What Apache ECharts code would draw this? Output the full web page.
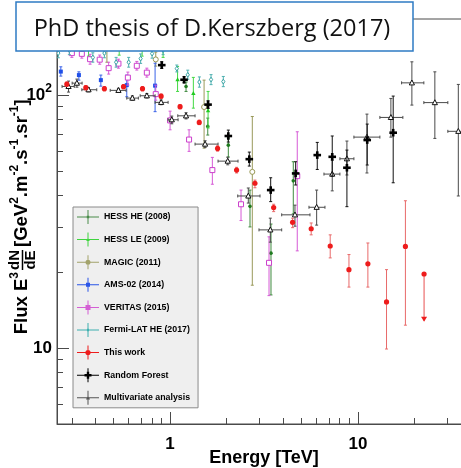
<!DOCTYPE html>
<html><head><meta charset="utf-8">
<script src="https://cdn.jsdelivr.net/npm/echarts@6/dist/echarts.min.js"></script>
<style>html,body{margin:0;padding:0;background:#fff}#c{width:461px;height:468px}</style>
</head><body><div id="c"></div>
<script>
// ---- axis ticks ----
const xMajorTicks = [1, 10];
const xMinorTicks = [0.3, 0.4, 0.5, 0.6, 0.7, 0.8, 0.9, 2, 3, 4, 5, 6, 7, 8, 9, 20, 30];
const yMajorTicks = [10, 100];
const yMinorTicks = [6, 7, 8, 9, 20, 30, 40, 50, 60, 70, 80, 90];

// ---- data: [energy TeV, E^3 dN/dE, lower, upper (, Elow, Ehigh)] ----
const hessHE2008 = [
  [1.216, 108.2, 103.4, 112.6],
  [1.587, 75.2, 69.5, 81.1],
  [2.042, 63.4, 56.9, 67.6],
  [2.664, 36.3, 30.1, 42.1],
  [3.445, 23.7, 16.2, 30.9],
  [4.528, 45.8, 33.9, 54.5]
];
const hessLE2009 = [
  [0.368, 157.6, 142.6, 170],
  [0.536, 156.2, 143.9, 168],
  [0.710, 157.6, 142.6, 172],
  [0.918, 154.8, 141.0, 168],
  [1.096, 115.2, 103.4, 129.8],
  [1.330, 101.8, 88.8, 117.5],
  [1.593, 87.0, 74.1, 103.4]
];
const magic2011 = [
  [0.461, 154.8, 134.9, 175],
  [0.839, 138.4, 130.2, 147.9],
  [1.517, 89.7, 61.7, 114.6],
  [2.740, 49.7, 17.7, 82.3]
];
const ams2014 = [
  [0.262, 123.9, 118.9, 129.4],
  [0.327, 120.0, 114.6, 123.6],
  [0.428, 114.6, 108.5, 120.0],
  [0.588, 109.5, 98.5, 120.0],
  [0.832, 109.0, 86.0, 133.7]
];
const veritas2015 = [
  [0.300, 146.6, 141, 152],
  [0.339, 145.6, 140, 151],
  [0.375, 138.7, 132.5, 145],
  [0.422, 138.1, 132.5, 144],
  [0.471, 127.8, 121.1, 134.9],
  [0.531, 133.2, 127.8, 138.7],
  [0.596, 117.3, 109.5, 123.3],
  [0.665, 130.6, 125.6, 135.9],
  [0.752, 122.7, 117.8, 127.8],
  [0.839, 100.9, 95.5, 109.5],
  [1.000, 79.4, 72.9, 86.4],
  [1.262, 66.7, 59.9, 72.9],
  [1.679, 50.5, 44.4, 56.7],
  [2.386, 37.0, 31.9, 42.1],
  [3.363, 21.7, 16.1, 27.5],
  [4.754, 47.8, 24.2, 71.6]
];
const fermiHE2017 = [
  [0.254, 146.6, 140.5, 152.5],
  [0.291, 150.6, 144.5, 157],
  [0.388, 140.9, 135, 147],
  [0.447, 146.6, 140.5, 152.5],
  [0.516, 134.9, 129, 141],
  [0.602, 134.9, 129, 141],
  [0.697, 139.4, 133.5, 145.5],
  [0.802, 145.9, 140, 152],
  [0.918, 150.6, 144.5, 157],
  [1.086, 127.3, 123.5, 131.5],
  [1.242, 120.3, 115.5, 125.5],
  [1.432, 112.6, 107.5, 118],
  [1.652, 115.2, 110, 120.5],
  [1.920, 113.1, 108, 118.5]
];
const thisWork = [
  [0.282, 110.5, 108.3, 112.7],
  [0.356, 107.0, 104.9, 109.1],
  [0.447, 106.0, 103.9, 108.1],
  [0.565, 108.0, 105.9, 110.1],
  [0.713, 106.0, 103.9, 108.1],
  [0.896, 99.0, 97.0, 101.0],
  [1.13, 90.0, 88.2, 91.8],
  [1.43, 78.0, 76.4, 79.6],
  [1.79, 61.5, 60.0, 63.0],
  [2.26, 50.5, 49.2, 51.8],
  [2.83, 44.8, 43.0, 46.1],
  [3.56, 35.9, 34.6, 37.0],
  [4.49, 31.4, 29.9, 32.6],
  [5.64, 29.6, 28.0, 31.2],
  [7.12, 25.3, 22.7, 28.0],
  [8.96, 20.4, 17.4, 23.4],
  [11.3, 21.5, 17.4, 26.0],
  [14.2, 15.2, 9.9, 20.4],
  [17.9, 25.2, 12.3, 38.2]
];
// [energy, flux, arrow end]
const thisWorkUpperLimits = [
  [22.5, 19.6, 12.8]
];
const randomForest = [
  [0.903, 131.4, 127.5, 135.5],
  [1.187, 115.0, 111.9, 118.3],
  [1.593, 91.7, 88.5, 95.0],
  [2.042, 68.9, 65.2, 72.7],
  [2.641, 55.8, 52.4, 59.5],
  [3.433, 42.1, 37.9, 47.1],
  [4.662, 49.0, 44.1, 54.5],
  [6.075, 57.9, 50.8, 65.0],
  [7.30, 57.0, 47.8, 68.9],
  [8.739, 51.6, 36.2, 60.6],
  [11.21, 66.4, 52.9, 76.8],
  [15.41, 71.0, 45.0, 99.1]
];
const multivariate = [
  [0.288, 108.2, 102.8, 113.6, 0.266, 0.309],
  [0.319, 111.5, 107.5, 115.7, 0.301, 0.340],
  [0.368, 105.0, 103.0, 107.0, 0.339, 0.407],
  [0.531, 104.4, 102.4, 106.4, 0.480, 0.583],
  [0.630, 97.3, 95.3, 99.3, 0.588, 0.678],
  [0.752, 99.4, 97.4, 101.4, 0.693, 0.832],
  [0.896, 93.6, 91.6, 95.6, 0.832, 0.976],
  [1.021, 79.9, 77.0, 82.6, 0.976, 1.103],
  [1.216, 82.8, 80.5, 85.2, 1.099, 1.358],
  [1.536, 64.0, 62.0, 66.0, 1.358, 1.800],
  [2.027, 54.8, 53.0, 56.8, 1.800, 2.300],
  [2.609, 39.9, 37.4, 42.9, 2.292, 3.011],
  [3.417, 29.3, 26.2, 32.6, 2.974, 3.928],
  [4.622, 33.6, 30.3, 36.7, 3.928, 5.556],
  [6.03, 36.0, 30.6, 42.1, 5.488, 6.676],
  [7.30, 48.7, 41.8, 55.3, 6.595, 8.020],
  [8.739, 56.0, 48.3, 65.8, 8.020, 9.522],
  [11.17, 68.2, 49.2, 84.1, 9.522, 13.09],
  [14.98, 81.6, 68.2, 97.0, 13.09, 17.35],
  [19.38, 111.8, 91.3, 135.4, 17.08, 22.44],
  [25.68, 93.4, 67.4, 123.6, 22.44, 30.11],
  [34.24, 71.9, 39.9, 110.2, 30.11, 39.4]
];

const legendNames = ['HESS HE (2008)', 'HESS LE (2009)', 'MAGIC (2011)', 'AMS-02 (2014)',
  'VERITAS (2015)', 'Fermi-LAT HE (2017)', 'This work', 'Random Forest', 'Multivariate analysis'];

const FF = '"Liberation Sans", Arial, Helvetica, sans-serif';

function marker(type, x, y, color, s) {
  const open = {fill: '#fff', stroke: color, lineWidth: 1};
  switch (type) {
    case 'dot': return {type: 'circle', shape: {cx: x, cy: y, r: s}, style: {fill: color}};
    case 'ocircle': return {type: 'circle', shape: {cx: x, cy: y, r: s}, style: open};
    case 'square': return {type: 'rect', shape: {x: x - s, y: y - s, width: 2 * s, height: 2 * s}, style: {fill: color}};
    case 'osquare': return {type: 'rect', shape: {x: x - s, y: y - s, width: 2 * s, height: 2 * s}, style: open};
    case 'tri': return {type: 'polygon', shape: {points: [[x, y - s], [x + s, y + s * 0.8], [x - s, y + s * 0.8]]}, style: {fill: color}};
    case 'otri': return {type: 'polygon', shape: {points: [[x, y - s * 1.1], [x + s, y + s * 0.8], [x - s, y + s * 0.8]]}, style: {fill: '#fff', stroke: '#111', lineWidth: 1}};
    case 'odiamond': return {type: 'polygon', shape: {points: [[x, y - s * 1.5], [x + s, y], [x, y + s * 1.5], [x - s, y]]}, style: open};
    case 'plus': return {type: 'group', children: [
      {type: 'rect', shape: {x: x - s, y: y - 1.3, width: 2 * s, height: 2.6}, style: {fill: color}},
      {type: 'rect', shape: {x: x - 1.3, y: y - s, width: 2.6, height: 2 * s}, style: {fill: color}}
    ]};
  }
}

function makeRender(st) {
  return function (params, api) {
    const E = api.value(0), F = api.value(1);
    const p = api.coord([E, F]);
    const ch = [];
    const bs = {stroke: st.bar, lineWidth: 1};
    const lo = api.value(2), hi = api.value(3);
    const a = api.coord([E, hi]), b = api.coord([E, lo]);
    ch.push({type: 'line', shape: {x1: p[0], y1: a[1], x2: p[0], y2: b[1]}, style: bs});
    ch.push({type: 'line', shape: {x1: p[0] - 1.5, y1: a[1], x2: p[0] + 1.5, y2: a[1]}, style: bs});
    ch.push({type: 'line', shape: {x1: p[0] - 1.5, y1: b[1], x2: p[0] + 1.5, y2: b[1]}, style: bs});
    const el = api.value(4), eh = api.value(5);
    if (el !== E || eh !== E) {
      const c = api.coord([el, F]), d = api.coord([eh, F]);
      ch.push({type: 'line', shape: {x1: c[0], y1: p[1], x2: d[0], y2: p[1]}, style: bs});
      ch.push({type: 'line', shape: {x1: c[0], y1: p[1] - 1.5, x2: c[0], y2: p[1] + 1.5}, style: bs});
      ch.push({type: 'line', shape: {x1: d[0], y1: p[1] - 1.5, x2: d[0], y2: p[1] + 1.5}, style: bs});
    }
    ch.push(marker(st.marker, p[0], p[1], st.color, st.size));
    return {type: 'group', children: ch};
  };
}

function errSeries(name, arr, st) {
  return {
    type: 'custom', name: name, clip: true,
    itemStyle: {color: st.legendColor || st.color},
    dimensions: ['E', 'F', 'lo', 'hi', 'elo', 'ehi'],
    encode: {x: 0, y: 1},
    data: arr.map(d => [d[0], d[1], d[2], d[3], d.length > 4 ? d[4] : d[0], d.length > 5 ? d[5] : d[0]]),
    renderItem: makeRender(st),
    z: st.z || 2
  };
}

const ulSeries = {
  type: 'custom', name: 'This work', clip: true,
  itemStyle: {color: '#ee1c1c'},
  encode: {x: 0, y: 1},
  data: thisWorkUpperLimits,
  renderItem: function (params, api) {
    const E = api.value(0);
    const p = api.coord([E, api.value(1)]);
    const q = api.coord([E, api.value(2)]);
    return {type: 'group', children: [
      {type: 'line', shape: {x1: p[0], y1: p[1], x2: p[0], y2: q[1]}, style: {stroke: '#e85050', lineWidth: 1}},
      {type: 'polygon', shape: {points: [[p[0] - 3, q[1] - 4], [p[0] + 3, q[1] - 4], [p[0], q[1] + 1]]}, style: {fill: '#ee1c1c'}},
      {type: 'circle', shape: {cx: p[0], cy: p[1], r: 2.6}, style: {fill: '#ee1c1c'}}
    ]};
  },
  z: 5
};

const crossBase = 'M0 6.5H22V7.5H0Z M10.5 0H11.5V14H10.5Z ';
const legendIcons = [
  'path://' + crossBase + 'M9.8 5.8H12.2V8.2H9.8Z',
  'path://' + crossBase + 'M11 5L12.8 8.4H9.2Z',
  'path://' + crossBase + 'M13.5 7A2.5 2.5 0 1 1 8.5 7A2.5 2.5 0 1 1 13.5 7Z',
  'path://' + crossBase + 'M9 5H13V9H9Z',
  'path://' + crossBase + 'M8.5 4.5H13.5V9.5H8.5Z',
  'path://' + crossBase + 'M11 4.5L12.5 7L11 9.5L9.5 7Z',
  'path://' + crossBase + 'M13.6 7A2.6 2.6 0 1 1 8.4 7A2.6 2.6 0 1 1 13.6 7Z',
  'path://' + crossBase + 'M7.5 5.8H14.5V8.2H7.5Z M9.8 3.5H12.2V10.5H9.8Z',
  'path://' + crossBase + 'M11 4.8L13 8.6H9Z'
];

const series = [
  errSeries(legendNames[0], hessHE2008, {color: '#1f7a1f', bar: '#3f8a3f', legendColor: '#4a8c4a', marker: 'dot', size: 1.8}),
  errSeries(legendNames[1], hessLE2009, {color: '#22cc22', bar: '#44d944', legendColor: '#3fd43f', marker: 'tri', size: 2.2}),
  errSeries(legendNames[2], magic2011, {color: '#999955', bar: '#99995a', legendColor: '#a3a36b', marker: 'ocircle', size: 2.5}),
  errSeries(legendNames[3], ams2014, {color: '#1f4fe8', bar: '#3a62e8', legendColor: '#2a55e8', marker: 'square', size: 2}),
  errSeries(legendNames[4], veritas2015, {color: '#cc3fcc', bar: '#d65ad6', legendColor: '#d45fd4', marker: 'osquare', size: 2.5}),
  errSeries(legendNames[5], fermiHE2017, {color: '#3aa5a5', bar: '#4fb0b0', legendColor: '#3fb0b0', marker: 'odiamond', size: 1.6}),
  errSeries(legendNames[8], multivariate, {color: '#111', bar: '#4a4a4a', legendColor: '#555', marker: 'otri', size: 2.6, z: 3}),
  errSeries(legendNames[7], randomForest, {color: '#000', bar: '#111', legendColor: '#000', marker: 'plus', size: 3.8, z: 4}),
  errSeries(legendNames[6], thisWork, {color: '#ee1c1c', bar: '#e86a6a', legendColor: '#ee1c1c', marker: 'dot', size: 2.6, z: 5}),
  ulSeries
];

const axisColor = '#4a4a4a';
const chart = echarts.init(document.getElementById('c'), null, {renderer: 'canvas'});
chart.setOption({
  animation: false,
  backgroundColor: '#fff',
  grid: {left: 57, right: -10, top: 19, bottom: 44, show: true, borderColor: axisColor, borderWidth: 1,
    backgroundColor: 'transparent', containLabel: false, outerBoundsMode: 'none'},
  xAxis: [
    {type: 'log', logBase: 10, min: 0.25, max: 40, position: 'bottom',
      axisLine: {show: true, lineStyle: {color: axisColor, width: 1}},
      axisTick: {show: true, inside: true, length: 12, customValues: xMajorTicks, lineStyle: {color: axisColor}},
      minorTick: {show: false}, splitLine: {show: false},
      axisLabel: {customValues: xMajorTicks, margin: 12, fontSize: 17, fontWeight: 'bold', fontFamily: FF, color: '#000',
        formatter: v => String(Math.round(v))},
      name: 'Energy [TeV]', nameLocation: 'middle', nameGap: 25, nameMoveOverlap: false,
      nameTextStyle: {fontSize: 18, fontWeight: 'bold', fontFamily: FF, color: '#000', verticalAlign: 'top'}},
    {type: 'log', logBase: 10, min: 0.25, max: 40, position: 'bottom',
      axisLine: {show: false},
      axisTick: {show: true, inside: true, length: 6, customValues: xMinorTicks, lineStyle: {color: axisColor}},
      minorTick: {show: false}, splitLine: {show: false}, axisLabel: {show: false}}
  ],
  yAxis: [
    {type: 'log', logBase: 10, min: 5, max: 200, position: 'left',
      axisLine: {show: true, lineStyle: {color: axisColor, width: 1}},
      axisTick: {show: true, inside: true, length: 12, customValues: yMajorTicks, lineStyle: {color: axisColor}},
      minorTick: {show: false}, splitLine: {show: false},
      axisLabel: {customValues: yMajorTicks, margin: 5, color: '#000',
        formatter: v => Math.round(v) >= 100 ? '{b|10}{s|2}' : '{b|10}',
        rich: {
          b: {fontSize: 17, fontWeight: 'bold', fontFamily: FF, color: '#000', lineHeight: 24},
          s: {fontSize: 12, fontWeight: 'bold', fontFamily: FF, color: '#000', lineHeight: 12, verticalAlign: 'top'}
        }}},
    {type: 'log', logBase: 10, min: 5, max: 200, position: 'left',
      axisLine: {show: false},
      axisTick: {show: true, inside: true, length: 6, customValues: yMinorTicks, lineStyle: {color: axisColor}},
      minorTick: {show: false}, splitLine: {show: false}, axisLabel: {show: false}}
  ],
  legend: {
    orient: 'vertical', left: 73, top: 207,
    padding: [3, 8, 3, 4], itemGap: 8.6, itemWidth: 22, itemHeight: 14,
    backgroundColor: '#efefef', borderColor: '#8a8a8a', borderWidth: 1,
    selectedMode: false,
    textStyle: {fontSize: 8.8, fontWeight: 'bold', fontFamily: FF, color: '#000'},
    data: legendNames.map((n, i) => ({name: n, icon: legendIcons[i]}))
  },
  graphic: [
    {type: 'rect', z: 100, shape: {x: 16, y: 2, width: 397, height: 49},
      style: {fill: '#fff', stroke: '#2e7bc4', lineWidth: 1.5}},
    {type: 'text', z: 101, x: 212, y: 29,
      style: {text: 'PhD thesis of D.Kerszberg (2017)', font: '23.5px "Open Sans", sans-serif', fill: '#111',
        align: 'center', verticalAlign: 'middle', textAlign: 'center', textVerticalAlign: 'middle'}},
    {type: 'group', x: 22, y: 260, rotation: Math.PI / 2, z: 50, children: [
      {type: 'text', x: -12, y: 0, style: {
        text: 'Flux E{s|3}', font: 'bold 18.5px ' + FF, fill: '#000', lineHeight: 26,
        align: 'right', verticalAlign: 'middle', textAlign: 'right', textVerticalAlign: 'middle',
        rich: {s: {font: 'bold 12px ' + FF, fill: '#000', lineHeight: 13, verticalAlign: 'top'}}}},
      {type: 'text', x: 0, y: -7.5, style: {text: 'dN', font: 'bold 15px ' + FF, fill: '#000',
        align: 'center', verticalAlign: 'middle', textAlign: 'center', textVerticalAlign: 'middle'}},
      {type: 'line', shape: {x1: -10, y1: 0.5, x2: 10, y2: 0.5}, style: {stroke: '#000', lineWidth: 1.5}},
      {type: 'text', x: 0, y: 9, style: {text: 'dE', font: 'bold 15px ' + FF, fill: '#000',
        align: 'center', verticalAlign: 'middle', textAlign: 'center', textVerticalAlign: 'middle'}},
      {type: 'text', x: 13, y: 0, style: {
        text: '[GeV{s|2}.m{s|-2}.s{s|-1}.sr{s|-1}]', font: 'bold 18.5px ' + FF, fill: '#000', lineHeight: 26,
        align: 'left', verticalAlign: 'middle', textAlign: 'left', textVerticalAlign: 'middle',
        rich: {s: {font: 'bold 12px ' + FF, fill: '#000', lineHeight: 13, verticalAlign: 'top'}}}}
    ]}
  ],
  series: series
});
</script>
</body></html>
